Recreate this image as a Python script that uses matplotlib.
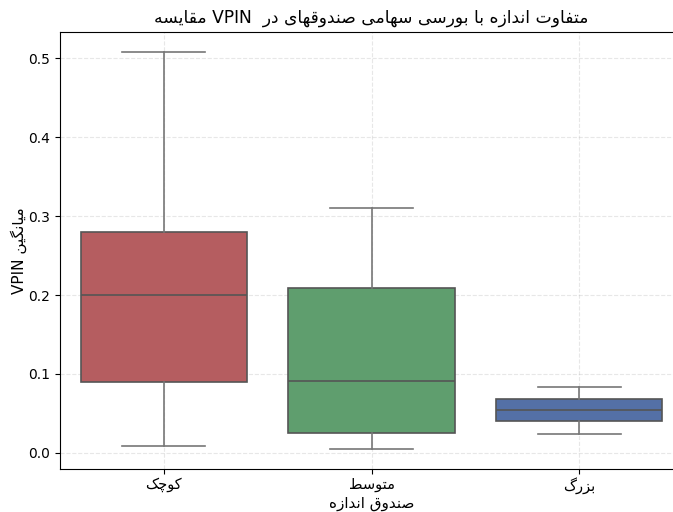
import matplotlib
matplotlib.use("Agg")
import matplotlib.pyplot as plt

# --- data ---
sizes = ["کوچک", "متوسط", "بزرگ"]
whisker_low = [0.009, 0.005, 0.024]
q1 = [0.090, 0.025, 0.040]
median = [0.200, 0.091, 0.054]
q3 = [0.280, 0.209, 0.068]
whisker_high = [0.508, 0.310, 0.083]
colors = ["#b55d60", "#5f9e6e", "#5470a6"]

# Arabic presentation forms: (isolated, final, initial, medial)
FORMS = {
    "ا": ("\uFE8D", "\uFE8E", None, None),
    "ب": ("\uFE8F", "\uFE90", "\uFE91", "\uFE92"),
    "ت": ("\uFE95", "\uFE96", "\uFE97", "\uFE98"),
    "د": ("\uFEA9", "\uFEAA", None, None),
    "ر": ("\uFEAD", "\uFEAE", None, None),
    "ز": ("\uFEAF", "\uFEB0", None, None),
    "س": ("\uFEB1", "\uFEB2", "\uFEB3", "\uFEB4"),
    "ص": ("\uFEB9", "\uFEBA", "\uFEBB", "\uFEBC"),
    "ط": ("\uFEC1", "\uFEC2", "\uFEC3", "\uFEC4"),
    "ف": ("\uFED1", "\uFED2", "\uFED3", "\uFED4"),
    "ق": ("\uFED5", "\uFED6", "\uFED7", "\uFED8"),
    "م": ("\uFEE1", "\uFEE2", "\uFEE3", "\uFEE4"),
    "ن": ("\uFEE5", "\uFEE6", "\uFEE7", "\uFEE8"),
    "ه": ("\uFEE9", "\uFEEA", "\uFEEB", "\uFEEC"),
    "و": ("\uFEED", "\uFEEE", None, None),
    "ی": ("\uFBFC", "\uFBFD", "\uFBFE", "\uFBFF"),
    "ک": ("\uFB8E", "\uFB8F", "\uFB90", "\uFB91"),
    "گ": ("\uFB92", "\uFB93", "\uFB94", "\uFB95"),
    "چ": ("\uFB7A", "\uFB7B", "\uFB7C", "\uFB7D"),
}


def shape_word(word):
    out = []
    for i, c in enumerate(word):
        if c not in FORMS:
            out.append(c)
            continue
        prev = i > 0 and word[i - 1] in FORMS and FORMS[word[i - 1]][2] is not None
        nxt = (i < len(word) - 1 and word[i + 1] in FORMS
               and FORMS[c][2] is not None)
        iso, fin, ini, med = FORMS[c]
        if prev and nxt:
            out.append(med)
        elif prev:
            out.append(fin)
        elif nxt:
            out.append(ini)
        else:
            out.append(iso)
    if any(c in FORMS for c in word):
        out = out[::-1]
    return "".join(out)


def fa(text):
    # words stay in the given order, letters of each word shaped right-to-left
    return " ".join(shape_word(w) for w in text.split(" "))


plt.rcParams["font.family"] = ["DejaVu Sans"]

fig = plt.figure(figsize=(6.73, 5.12), dpi=100)
ax = fig.add_axes([60 / 673, 1 - 469 / 512, 623 / 673, 437 / 512])

stats = []
for i in range(len(sizes)):
    stats.append(dict(whislo=whisker_low[i], q1=q1[i], med=median[i],
                      q3=q3[i], whishi=whisker_high[i], fliers=[]))

line = "#555555"
bp = ax.bxp(stats, positions=range(len(sizes)), widths=0.8, capwidths=0.4,
            patch_artist=True, showfliers=False,
            boxprops=dict(edgecolor=line, linewidth=1.2),
            medianprops=dict(color=line, linewidth=1.2),
            whiskerprops=dict(color="#777777", linewidth=1.2),
            capprops=dict(color="#777777", linewidth=1.2))
for patch, c in zip(bp["boxes"], colors):
    patch.set_facecolor(c)

ax.set_xlim(-0.5, 2.5)
ax.set_ylim(-0.0203, 0.533)
ax.set_xticks(range(len(sizes)))
ax.set_xticklabels([fa(s) for s in sizes], fontsize=10.5)
ax.tick_params(axis="x", pad=2)
ax.tick_params(axis="y", labelsize=10)
ax.grid(True, linestyle="--", alpha=0.3)
ax.set_axisbelow(True)

ax.set_title(fa("مقایسه VPIN  در صندوقهای سهامی بورسی با اندازه متفاوت"),
             fontsize=12.3, x=(371 - 60) / 623, pad=7)
ax.set_xlabel(fa("اندازه صندوق"), fontsize=11, labelpad=1.5)
ax.set_ylabel(fa("VPIN میانگین"), fontsize=11, labelpad=1)

fig.savefig("out.png", dpi=100)
